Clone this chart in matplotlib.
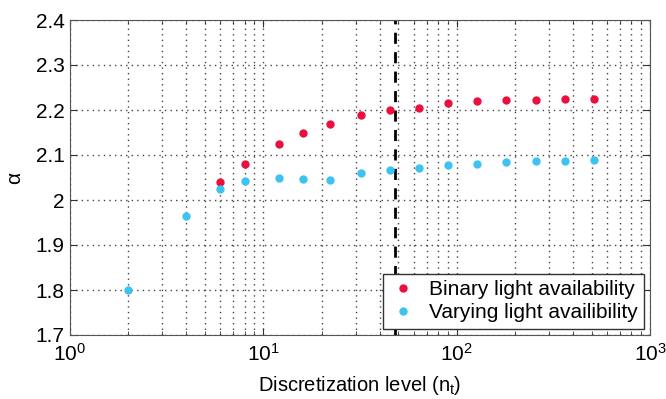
import numpy as np
import matplotlib
matplotlib.use("Agg")
import matplotlib.pyplot as plt
from matplotlib.ticker import LogLocator, NullFormatter

plt.rcParams['font.family'] = ['Liberation Sans', 'DejaVu Sans']
plt.rcParams['mathtext.fontset'] = 'custom'
plt.rcParams['mathtext.rm'] = 'Liberation Sans'

# discretization levels
n_binary = [6, 8, 12, 16, 22, 32, 45, 64, 90, 128, 181, 256, 362, 512]
alpha_binary = [2.041, 2.081, 2.124, 2.150, 2.168, 2.188, 2.201, 2.205,
                2.215, 2.219, 2.222, 2.222, 2.225, 2.225]

n_varying = [2, 4, 6, 8, 12, 16, 22, 32, 45, 64, 90, 128, 181, 256, 362, 512]
alpha_varying = [1.799, 1.964, 2.024, 2.042, 2.049, 2.047, 2.044, 2.061,
                 2.067, 2.072, 2.077, 2.081, 2.084, 2.086, 2.086, 2.088]

n_threshold = 48

fig = plt.figure(figsize=(6.66, 3.99), dpi=100)
ax = fig.add_axes([70/666, 1 - 335/399, 580/666, 315/399])

ax.plot(n_binary, alpha_binary, 'o', color='#ec0f3e', markersize=5,
        label='Binary light availability', zorder=3)
ax.plot(n_varying, alpha_varying, 'o', color='#3cc4f0', markersize=5,
        label='Varying light availibility', zorder=3)
ax.axvline(n_threshold, color='black', linestyle='--', linewidth=2,
           dashes=(4, 3), zorder=2)

ax.set_xscale('log')
ax.set_xlim(1, 1000)
ax.set_ylim(1.7, 2.4)
ax.set_yticks(np.arange(1.7, 2.41, 0.1))
ax.set_yticklabels(['1.7', '1.8', '1.9', '2', '2.1', '2.2', '2.3', '2.4'])
ax.xaxis.set_minor_locator(LogLocator(base=10, subs=np.arange(2, 10)))
ax.xaxis.set_minor_formatter(NullFormatter())

ax.grid(True, which='major', color='#444444', linestyle=(0, (1, 3)), linewidth=1.0)
ax.grid(True, which='minor', axis='x', color='#444444', linestyle=(0, (1, 3)), linewidth=1.0)
ax.tick_params(which='both', direction='in', top=True, right=True,
               labelsize=15, color='#333333')
ax.tick_params(which='major', length=5)
ax.tick_params(which='minor', length=3)
ax.tick_params(axis='x', pad=6)
ax.tick_params(axis='y', pad=4)
for s in ax.spines.values():
    s.set_color('#555555')

ax.set_xlabel('Discretization level ($\\mathregular{n_t}$)', fontsize=14.5, labelpad=6)
ax.set_ylabel('α', fontsize=15, labelpad=8)

leg = ax.legend(loc='lower right', fontsize=15, fancybox=False,
                framealpha=1, edgecolor='#333333', handletextpad=0.6,
                borderaxespad=0.3, handlelength=1.3, borderpad=0.3,
                labelspacing=0.2)
leg.get_frame().set_linewidth(1.0)

fig.savefig('out.png', dpi=100)
